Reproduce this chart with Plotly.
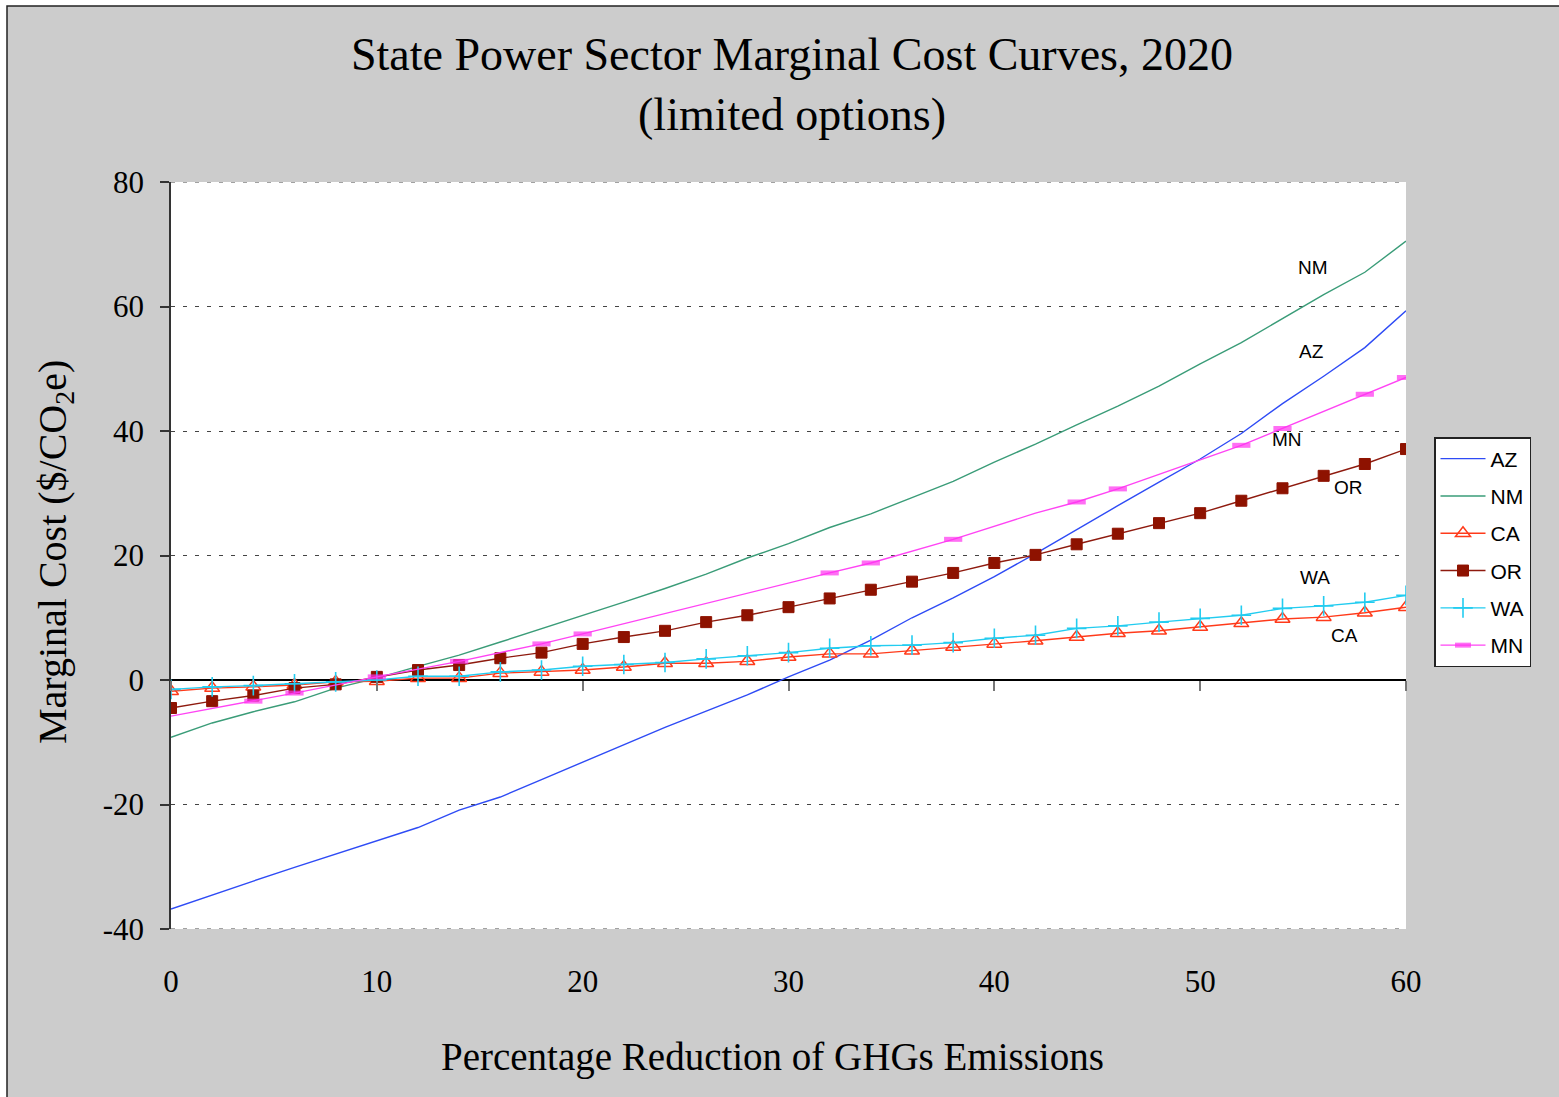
import plotly.graph_objects as go

# ---------------- data ----------------
X = [0, 2, 4, 6, 8, 10, 12, 14, 16, 18, 20, 22, 24, 26, 28, 30,
     32, 34, 36, 38, 40, 42, 44, 46, 48, 50, 52, 54, 56, 58, 60]

AZ = [-36.8, -34.5, -32.3, -30.1, -28.0, -25.9, -23.7, -20.9, -18.8, -16.0, -13.2,
      -10.3, -7.6, -5.0, -2.4, 0.5, 3.2, 6.4, 10.0, 13.2, 16.6, 20.3, 24.2, 28.0,
      31.8, 35.5, 39.6, 44.4, 48.8, 53.4, 59.3]
NM = [-9.2, -6.9, -5.1, -3.5, -1.3, 0.3, 2.2, 4.0, 6.1, 8.2, 10.3, 12.5, 14.7, 17.0,
      19.6, 21.9, 24.5, 26.7, 29.3, 31.9, 35.0, 37.9, 41.0, 44.0, 47.2, 50.8, 54.2,
      58.0, 61.9, 65.5, 70.5]
CA = [-1.8, -1.3, -1.1, -0.8, -0.3, -0.2, 0.3, 0.3, 1.1, 1.3, 1.6, 2.1, 2.7, 2.7,
      3.0, 3.7, 4.2, 4.2, 4.7, 5.3, 5.8, 6.3, 6.9, 7.5, 7.9, 8.5, 9.1, 9.8, 10.1,
      10.8, 11.7]
OR = [-4.5, -3.4, -2.5, -1.3, -0.7, 0.5, 1.6, 2.4, 3.5, 4.4, 5.8, 6.9, 7.9, 9.3,
      10.4, 11.7, 13.1, 14.5, 15.8, 17.2, 18.8, 20.1, 21.8, 23.5, 25.2, 26.8, 28.8,
      30.8, 32.8, 34.7, 37.1]
WA = [-1.5, -1.1, -0.9, -0.6, -0.3, 0.0, 0.6, 0.6, 1.3, 1.6, 2.2, 2.5, 2.8, 3.4,
      3.9, 4.4, 5.1, 5.5, 5.6, 6.0, 6.7, 7.2, 8.3, 8.7, 9.3, 9.9, 10.4, 11.5, 11.9,
      12.5, 13.6]
MN_X = [0, 4, 6, 10, 14, 18, 20, 32, 34, 38, 42, 44, 46, 52, 54, 58, 60]
MN = [-5.8, -3.4, -2.1, 0.5, 3.0, 5.8, 7.4, 17.2, 18.8, 22.6, 26.8, 28.6, 30.7,
      37.7, 40.4, 45.9, 48.6]
MN_UNMARKED = [0, 42]

LABELS = ["NM", "AZ", "MN", "OR", "WA", "CA"]
LABEL_X = [55.5, 55.4, 54.2, 57.2, 55.6, 57.0]
LABEL_Y = [66.2, 52.7, 38.6, 31.0, 16.4, 7.2]

X_TICKS = [0, 10, 20, 30, 40, 50, 60]
Y_TICKS = [-40, -20, 0, 20, 40, 60, 80]
Y_TICKTEXT = ["-40", "-20", "0", "20", "40", "60", "80"]

TITLE = "State Power Sector Marginal Cost Curves, 2020<br>(limited options)"
X_TITLE = "Percentage Reduction of GHGs Emissions"
Y_TITLE = "Marginal Cost ($/CO<sub>2</sub>e)"

# ---------------- figure ----------------
W, H = 1559, 1097
L, R, T, B = 171, 1406, 182, 929


def px_x(p):
    return (p - L) / (R - L)


def px_y(p):
    return (B - p) / (B - T)


fig = go.Figure()

fig.add_trace(go.Scatter(x=X, y=AZ, name="AZ", mode="lines",
                         line=dict(color="#2E4BF5", width=1.4), legendgroup="a"))
fig.add_trace(go.Scatter(x=X, y=NM, name="NM", mode="lines",
                         line=dict(color="#3A9C78", width=1.4), legendgroup="b"))
fig.add_trace(go.Scatter(x=X, y=CA, name="CA", mode="lines+markers",
                         line=dict(color="#FF3A1A", width=1.4), legendgroup="c",
                         marker=dict(symbol="triangle-up-open", size=13, color="#FF3A1A",
                                     line=dict(width=1.5, color="#FF3A1A"))))
fig.add_trace(go.Scatter(x=X, y=OR, name="OR", mode="lines+markers",
                         line=dict(color="#8E1A0E", width=1.4), legendgroup="d",
                         marker=dict(symbol="square", size=11, color="#8E1200",
                                     line=dict(width=1, color="#8E1200"))))
fig.add_trace(go.Scatter(x=X, y=WA, name="WA", mode="lines+markers",
                         line=dict(color="#22CCF0", width=1.4), legendgroup="e",
                         marker=dict(symbol="cross-thin-open", size=14, color="#22CCF0",
                                     line=dict(width=1.6, color="#22CCF0"))))
mn_sizes = [0 if x in MN_UNMARKED else 13 for x in MN_X]
fig.add_trace(go.Scatter(x=MN_X, y=MN, name="MN", mode="lines+markers",
                         line=dict(color="#FF44F4", width=1.4), legendgroup="f",
                         marker=dict(symbol="line-ew", size=mn_sizes, color="#FF44F4",
                                     line=dict(width=5, color="#FF33F0"))))
# invisible trace to carry the tick-only axis drawn at y = 0
fig.add_trace(go.Scatter(x=[X[0], X[-1]], y=[0, 0], xaxis="x2", mode="lines",
                         line=dict(width=0), showlegend=False, hoverinfo="skip"))

serif = "Liberation Serif, Times New Roman, serif"
sans = "Liberation Sans, Arial, sans-serif"

annotations = []
for t, lx, ly in zip(LABELS, LABEL_X, LABEL_Y):
    annotations.append(dict(x=lx, y=ly, xref="x", yref="y", text=t, showarrow=False,
                            xanchor="center", yanchor="middle",
                            font=dict(family=sans, size=19, color="black")))
annotations.append(dict(x=px_x(792), y=px_y(85), xref="paper", yref="paper", text=TITLE,
                        showarrow=False, align="center", xanchor="center", yanchor="middle",
                        font=dict(family=serif, size=46, color="black")))
annotations.append(dict(x=px_x(772), y=px_y(1057), xref="paper", yref="paper", text=X_TITLE,
                        showarrow=False, xanchor="center", yanchor="middle",
                        font=dict(family=serif, size=39, color="black")))
annotations.append(dict(x=px_x(55), y=px_y(552), xref="paper", yref="paper", text=Y_TITLE,
                        showarrow=False, textangle=-90, xanchor="center", yanchor="middle",
                        font=dict(family=serif, size=40, color="black")))

shapes = [
    # grey chart area with dark border
    dict(type="rect", xref="paper", yref="paper", layer="below",
         x0=px_x(7), x1=px_x(1700), y0=px_y(1300), y1=px_y(6),
         fillcolor="#CCCCCC", line=dict(color="#222222", width=1.5)),
    # white plot area
    dict(type="rect", xref="paper", yref="paper", layer="below",
         x0=0, x1=1, y0=0, y1=1, fillcolor="white", line=dict(width=0)),
]
for yv in (Y_TICKS[0], Y_TICKS[-1]):
    shapes.append(dict(type="line", xref="paper", yref="y", x0=0, x1=1, y0=yv, y1=yv,
                       layer="above", line=dict(color="#444444", width=1, dash="4px,8px")))

fig.update_layout(
    width=W, height=H,
    margin=dict(l=L, r=W - R, t=T, b=H - B, pad=0),
    paper_bgcolor="white",
    plot_bgcolor="white",
    showlegend=True,
    legend=dict(x=px_x(1434), y=px_y(437), xanchor="left", yanchor="top",
                bgcolor="white", bordercolor="#222222", borderwidth=1.5,
                font=dict(family=sans, size=21, color="black"),
                itemwidth=45, tracegroupgap=7),
    annotations=annotations,
    shapes=shapes,
    xaxis=dict(range=[0, 60], tickvals=X_TICKS, ticks="", showgrid=False, zeroline=False,
               showline=False, ticklabelstandoff=31,
               tickfont=dict(family=serif, size=31, color="black")),
    xaxis2=dict(range=[0, 60], overlaying="x", anchor="free", position=px_y(680),
                tickvals=X_TICKS, ticks="outside", ticklen=10, tickwidth=2,
                tickcolor="#777777", showticklabels=False, showgrid=False,
                zeroline=False, showline=False),
    yaxis=dict(range=[-40, 80], tickvals=Y_TICKS, ticktext=Y_TICKTEXT, ticks="outside",
               ticklen=9, tickwidth=1.5, tickcolor="#333333", showline=True,
               linecolor="#333333", linewidth=1.5, showgrid=True, gridcolor="#444444",
               gridwidth=1, griddash="4px,8px", zeroline=True, zerolinecolor="black",
               zerolinewidth=1.5, ticklabelstandoff=10,
               tickfont=dict(family=serif, size=31, color="black")),
)

fig.write_html("out.html", config={"displayModeBar": False},
               post_script="document.body.style.margin='0';")
